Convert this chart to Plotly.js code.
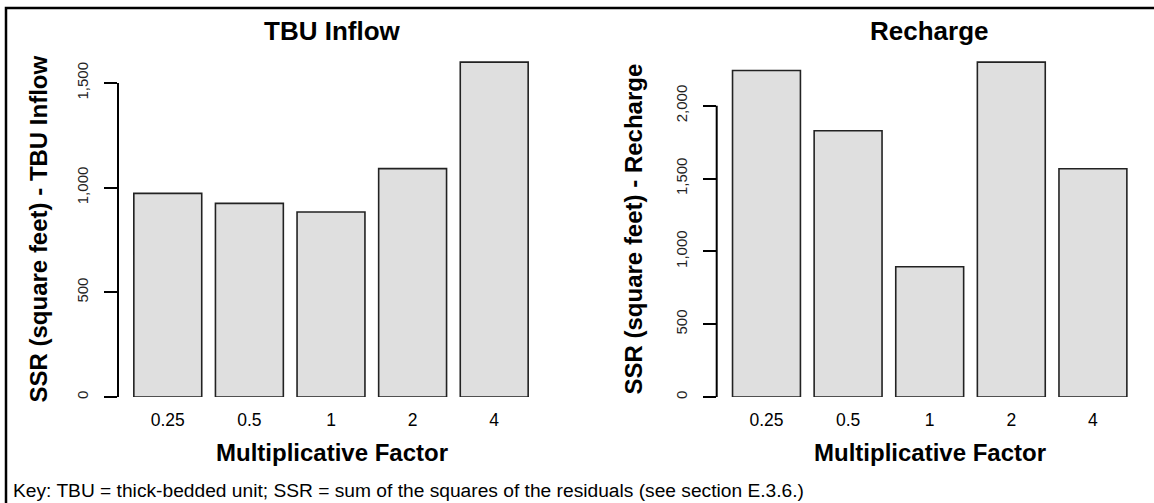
<!DOCTYPE html>
<html>
<head>
<meta charset="utf-8">
<script src="https://cdn.plot.ly/plotly-3.0.1.min.js"></script>
<style>html,body{margin:0;padding:0;background:#fff;}#chart{width:1154px;height:503px;}</style>
</head>
<body>
<div id="chart"></div>
<script>
// ---- data ----
const categories = ['0.25', '0.5', '1', '2', '4'];
const tbuInflowSSR = [973, 925, 884, 1091, 1600];
const rechargeSSR = [2242, 1829, 894, 2300, 1568];
const tbuTicks = [0, 500, 1000, 1500];
const rechargeTicks = [0, 500, 1000, 1500, 2000];
const panelTitles = ['TBU Inflow', 'Recharge'];
const yTitles = ['SSR (square feet) - TBU Inflow', 'SSR (square feet) - Recharge'];
const xTitle = 'Multiplicative Factor';
const keyText = 'Key: TBU = thick-bedded unit; SSR = sum of the squares of the residuals (see section E.3.6.)';

// ---- layout helpers (pixel -> paper) ----
const W = 1154, H = 503;
const px = x => x / W;
const py = y => 1 - y / H;
const FONT = 'Liberation Sans, Arial, Helvetica, sans-serif';

const leftDom = [px(118), px(544)];
const rightDom = [px(716.7), px(1142.7)];
const yDom = [py(397), py(48.7)];

const barStyle = {color: '#dfdfdf', line: {color: '#222', width: 1.6}};

const traces = [
  {type: 'bar', x: categories, y: tbuInflowSSR, xaxis: 'x', yaxis: 'y', marker: barStyle, hoverinfo: 'x+y'},
  {type: 'bar', x: categories, y: rechargeSSR, xaxis: 'x2', yaxis: 'y2', marker: barStyle, hoverinfo: 'x+y'}
];

function xAxis(domain, anchor) {
  return {
    domain: domain, anchor: anchor, type: 'category', range: [-0.61, 4.61],
    showline: false, showgrid: false, zeroline: false, ticks: '',
    tickfont: {family: FONT, size: 17.5, color: '#000'}, ticklabelstandoff: 10
  };
}
function yAxis(anchor, vals, ticks) {
  return {
    domain: yDom, anchor: anchor, range: [0, Math.max(...vals) * 1.04],
    showline: false, showgrid: false, zeroline: false,
    tickmode: 'array', tickvals: ticks, tickformat: ',',
    ticks: 'outside', ticklen: 13, tickwidth: 2, tickcolor: '#000',
    tickangle: -90, ticklabelstandoff: 10,
    tickfont: {family: FONT, size: 15, color: '#222'}
  };
}

const ann = [];
function text(t, x, y, size, bold, opts) {
  ann.push(Object.assign({
    text: bold ? '<b>' + t + '</b>' : t, xref: 'paper', yref: 'paper',
    x: px(x), y: py(y), showarrow: false, xanchor: 'center', yanchor: 'middle',
    font: {family: FONT, size: size, color: '#000'}
  }, opts || {}));
}
text(panelTitles[0], 332, 31, 26, true);
text(panelTitles[1], 929.7, 31, 26, true);
text(yTitles[0], 38, 229.5, 24, true, {textangle: -90});
text(yTitles[1], 633, 229.5, 24, true, {textangle: -90});
text(xTitle, 332, 452, 24, true);
text(xTitle, 929.7, 452, 24, true);
text(keyText, 11, 490, 19.2, false, {xanchor: 'left'});

const shapes = [
  {type: 'line', xref: 'x domain', yref: 'y', x0: 0, x1: 0, y0: tbuTicks[0], y1: tbuTicks[tbuTicks.length - 1], line: {color: '#000', width: 2}},
  {type: 'line', xref: 'x2 domain', yref: 'y2', x0: 0, x1: 0, y0: rechargeTicks[0], y1: rechargeTicks[rechargeTicks.length - 1], line: {color: '#000', width: 2}},
  {type: 'path', xref: 'paper', yref: 'paper', path: 'M ' + px(6) + ' ' + py(505) + ' L ' + px(6) + ' ' + py(8) + ' L ' + px(1160) + ' ' + py(8), line: {color: '#000', width: 2.5}}
];

const layout = {
  width: W, height: H, margin: {l: 0, r: 0, t: 0, b: 0},
  paper_bgcolor: '#fff', plot_bgcolor: '#fff', showlegend: false, bargap: 0.168,
  xaxis: xAxis(leftDom, 'y'), yaxis: yAxis('x', tbuInflowSSR, tbuTicks),
  xaxis2: xAxis(rightDom, 'y2'), yaxis2: yAxis('x2', rechargeSSR, rechargeTicks),
  annotations: ann, shapes: shapes
};

Plotly.newPlot('chart', traces, layout, {displayModeBar: false, staticPlot: true});
</script>
</body>
</html>
